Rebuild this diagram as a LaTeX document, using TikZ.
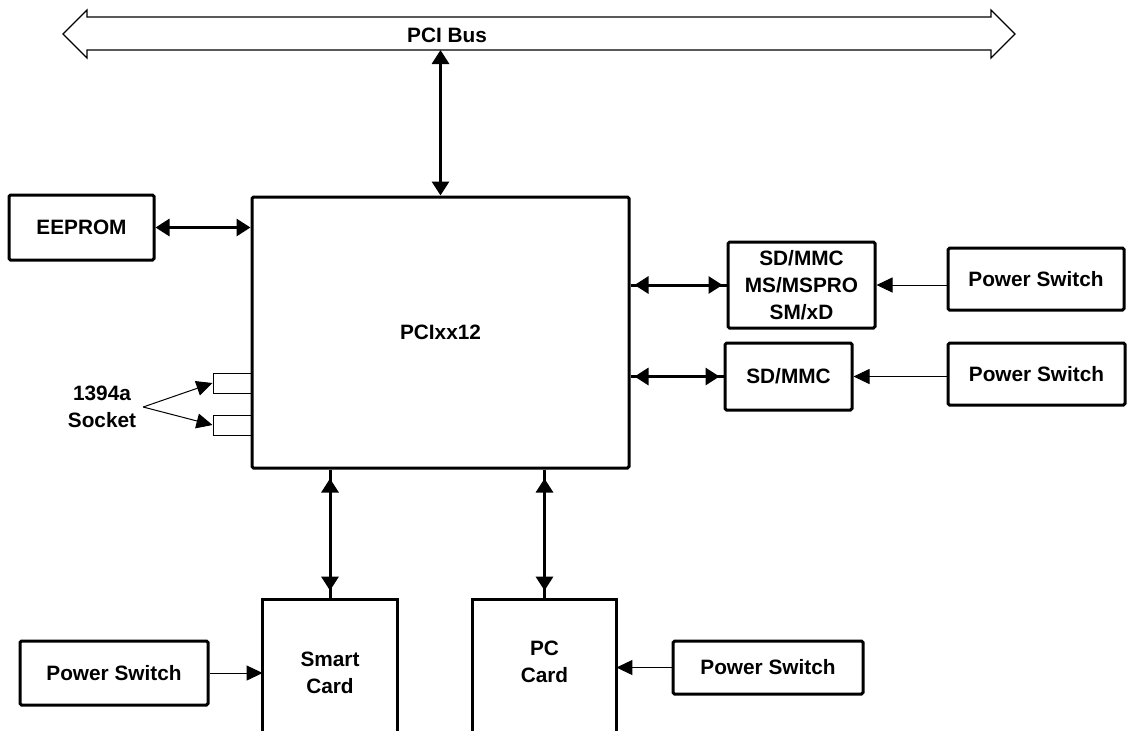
\documentclass[tikz,border=0pt]{standalone}
\usepackage{fontspec}
\setmainfont{Liberation Sans}
\usetikzlibrary{arrows.meta}
\begin{document}
\begin{tikzpicture}[x=0.5pt, y=-0.5pt,
        font=\fontsize{10.4}{13.5}\selectfont\bfseries,
        block/.style = {draw, line width=1.5pt, rounded corners=0.8pt, align=center, inner sep=0pt},
        card/.style = {align=center, inner sep=0pt},
        socket/.style = {draw, line width=0.5pt, minimum width=19.5pt,
                minimum height=10pt, inner sep=0pt},
        link/.style = {line width=1.5pt,
                {Triangle[length=7pt,width=8.5pt]}-{Triangle[length=7pt,width=8.5pt]}},
        gaplink/.style = {link, shorten <=#1, shorten >=#1,
                postaction={draw, arrows=-, shorten <=0pt, shorten >=0pt}},
        feed/.style = {line width=0.5pt, -{Triangle[length=8pt,width=7.5pt]}}
    ]
    \useasboundingbox (0,0) rectangle (1128,730);

    % bus
    \draw[line width=0.6pt] (63,34) -- (87,10) -- (87,17) -- (991,17) -- (991,10)
        -- (1015,34) -- (991,58) -- (991,50) -- (87,50) -- (87,58) -- cycle;
    \node (bus) at (447,35) {PCI Bus};
    \coordinate (tap) at (440.5,50);

    % controller and memory
    \node[block, minimum width=188.5pt, minimum height=135.5pt] (chip) at (440.5,332.5) {PCIxx12};
    \node[block, minimum width=72.5pt, minimum height=32.5pt] (eeprom) at (81.5,227.5) {EEPROM};

    % flash media slots
    \node[block, minimum width=73.5pt, minimum height=43pt] (sdms) at (801.5,285) {SD/MMC\\MS/MSPRO\\SM/xD};
    \node[block, minimum width=88pt, minimum height=31pt] (psa) at (1036,279) {Power Switch};
    \node[block, minimum width=63.5pt, minimum height=33.5pt] (sdmmc) at (788.5,376.5) {SD/MMC};
    \node[block, minimum width=88.5pt, minimum height=31pt] (psb) at (1036.5,374) {Power Switch};

    % card sockets
    \node[card, minimum width=67pt, minimum height=70pt,
        label={[align=center, yshift=-1.5pt]center:Smart\\Card}] (smart) at (330,670) {};
    \node[card, minimum width=71.5pt, minimum height=70pt,
        label={[align=center, yshift=4pt]center:PC\\Card}] (pc) at (544.5,670) {};
    \draw[line width=1.5pt] (smart.south west) |- (smart.north east) -- (smart.south east);
    \draw[line width=1.5pt] (pc.south west) |- (pc.north east) -- (pc.south east);
    \node[block, minimum width=94pt, minimum height=32pt] (psc) at (114,673) {Power Switch};
    \node[block, minimum width=95pt, minimum height=26.5pt] (psd) at (768,667.5) {Power Switch};

    % 1394a
    \node[socket] (sockA) at (232.5,383) {};
    \node[socket] (sockB) at (232.5,425) {};
    \node[align=center] (socklabel) at (102,407) {1394a\\Socket};

    % connections
    \draw[link] (tap) -- (chip.north);
    \draw[link] (eeprom.east) -- (eeprom.east -| chip.west);
    \draw[gaplink=2pt] (chip.east |- sdms.west) -- (sdms.west);
    \draw[gaplink=2pt] (chip.east |- sdmmc.west) -- (sdmmc.west);
    \draw[feed] (psa.west |- sdms.east) -- (sdms.east);
    \draw[feed] (psb.west |- sdmmc.east) -- (sdmmc.east);
    \draw[gaplink=4.5pt] (chip.south -| smart.north) -- (smart.north);
    \draw[gaplink=4.5pt] (chip.south -| pc.north) -- (pc.north);
    \draw[feed] (psc.east) -- (psc.east -| smart.west);
    \draw[feed] (psd.west) -- (psd.west -| pc.east);
    \draw[feed] (socklabel.east) -- (sockA.west);
    \draw[feed] (socklabel.east) -- (sockB.west);
\end{tikzpicture}
\end{document}
